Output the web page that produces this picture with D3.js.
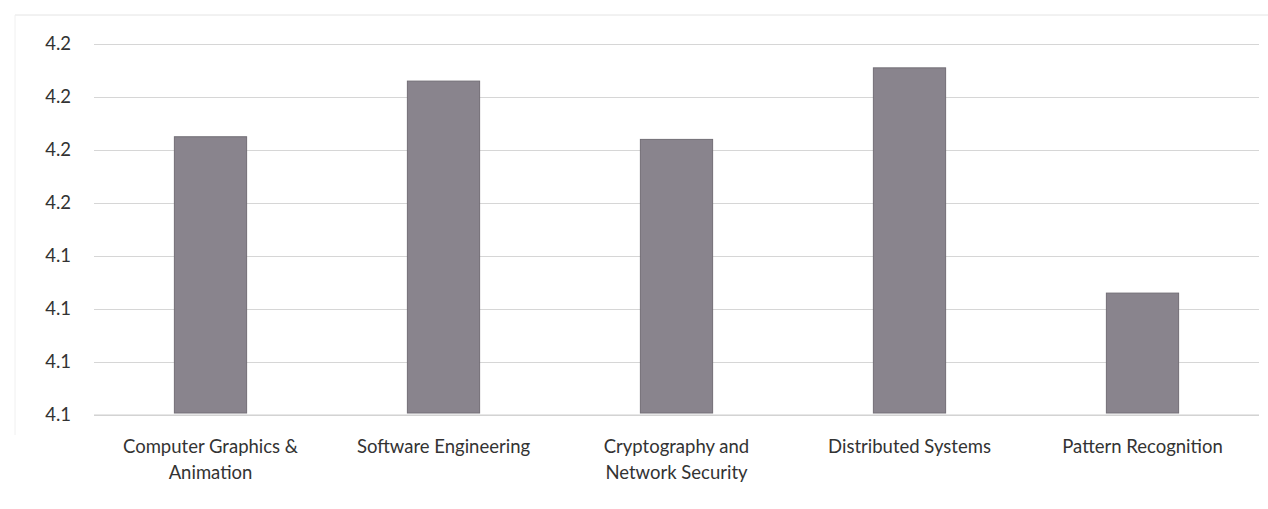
<!DOCTYPE html>
<html>
<head>
<meta charset="utf-8">
<script src="https://cdn.jsdelivr.net/npm/d3@7"></script>
<style>
  html, body { margin: 0; padding: 0; background: #fff; }
  svg { display: block; }
  text { font-family: "Lato", "Open Sans", sans-serif; fill: #333; }
</style>
</head>
<body>
<svg id="chart" width="1268" height="509"></svg>
<script>
const categories = [
  "Computer Graphics & Animation",
  "Software Engineering",
  "Cryptography and Network Security",
  "Distributed Systems",
  "Pattern Recognition"
];
const values = [4.185, 4.206, 4.184, 4.211, 4.126];
const yTicks = [4.08, 4.10, 4.12, 4.14, 4.16, 4.18, 4.20, 4.22];

const svg = d3.select("#chart");
const margin = { left: 94, right: 9, top: 44, bottom: 94 };
const W = 1268, H = 509;

// faint chart border
svg.append("line").attr("x1", 15).attr("x2", W).attr("y1", 15).attr("y2", 15)
  .attr("stroke", "#e4e4e4").attr("stroke-width", 1);
svg.append("line").attr("x1", 15).attr("x2", 15).attr("y1", 15).attr("y2", 435)
  .attr("stroke", "#f0f0f0").attr("stroke-width", 1);

const x = d3.scaleBand()
  .domain(categories)
  .range([margin.left, W - margin.right])
  .paddingInner(0.69)
  .paddingOuter(0.345);

const y = d3.scaleLinear()
  .domain([4.08, 4.22])
  .range([415, 44]);

// gridlines
const grid = svg.append("g")
  .attr("transform", `translate(${margin.left},0)`)
  .call(d3.axisLeft(y).tickValues(yTicks).tickSize(-(W - margin.right - margin.left)).tickFormat(""));
grid.select(".domain").remove();
grid.selectAll("line").attr("stroke", "#d6d6d6").attr("stroke-width", 1);

// y labels
const yAxis = svg.append("g")
  .attr("transform", `translate(71,0)`)
  .call(d3.axisLeft(y).tickValues(yTicks).tickSize(0).tickPadding(0).tickFormat(d3.format(".1f")));
yAxis.select(".domain").remove();
yAxis.selectAll("text").attr("font-size", 18.5).attr("fill", "#333")
  .style("font-family", "Lato, 'Open Sans', sans-serif");

// bars
svg.append("g").selectAll("rect")
  .data(categories.map((c, i) => ({ c, v: values[i] })))
  .join("rect")
  .attr("x", d => x(d.c))
  .attr("width", x.bandwidth())
  .attr("y", d => y(d.v))
  .attr("height", d => y(4.08) - y(d.v) - 2)
  .attr("fill", "#89848d")
  .attr("stroke", "#726e76")
  .attr("stroke-width", 1);

// x axis line
svg.append("line").attr("x1", margin.left).attr("x2", W - margin.right)
  .attr("y1", y(4.08)).attr("y2", y(4.08)).attr("stroke", "#cfcfcf");

// x labels with wrapping
const xAxis = svg.append("g")
  .attr("transform", `translate(0,${y(4.08)})`)
  .call(d3.axisBottom(x).tickSize(0).tickPadding(0));
xAxis.select(".domain").remove();
xAxis.selectAll("text")
  .attr("font-size", 18.5)
  .attr("fill", "#333")
  .style("font-family", "Lato, 'Open Sans', sans-serif")
  .attr("y", 0).attr("dy", null)
  .each(function () {
    const t = d3.select(this);
    const words = t.text().split(/\s+/);
    t.text(null);
    const maxW = 205;
    let line = [];
    let lineNo = 0;
    let tspan = t.append("tspan").attr("x", 0).attr("y", 38);
    for (const w of words) {
      line.push(w);
      tspan.text(line.join(" "));
      if (tspan.node().getComputedTextLength() > maxW && line.length > 1) {
        line.pop();
        tspan.text(line.join(" "));
        line = [w];
        lineNo++;
        tspan = t.append("tspan").attr("x", 0).attr("y", 38 + lineNo * 26).text(w);
      }
    }
  });
</script>
</body>
</html>
